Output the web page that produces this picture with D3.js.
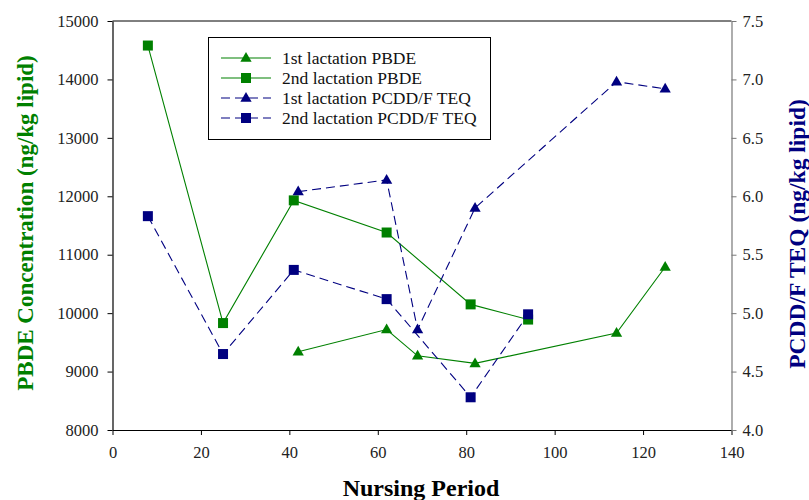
<!DOCTYPE html>
<html>
<head>
<meta charset="utf-8">
<script src="https://cdn.jsdelivr.net/npm/d3@7"></script>
<style>
  body { margin: 0; background: #fff; }
  svg { display: block; font-family: "Liberation Serif", "Times New Roman", serif; }
</style>
</head>
<body>
<script>
// nursing period (days) for each series
var pbde1X = [42, 62, 69, 82, 114, 125];
var pbde1Y = [9340, 9720, 9270, 9140, 9660, 10790];
var pbde2X = [8, 25, 41, 62, 81, 94];
var pbde2Y = [14580, 9830, 11930, 11380, 10150, 9890];
var teq1X = [42, 62, 69, 82, 114, 125];
var teq1Y = [6.04, 6.14, 4.86, 5.90, 6.98, 6.92];
var teq2X = [8, 25, 41, 62, 81, 94];
var teq2Y = [5.83, 4.65, 5.37, 5.12, 4.28, 4.99];

var xTicks = [0, 20, 40, 60, 80, 100, 120, 140];
var leftTicks = [8000, 9000, 10000, 11000, 12000, 13000, 14000, 15000];
var rightTicks = [4.0, 4.5, 5.0, 5.5, 6.0, 6.5, 7.0, 7.5];

var legendNames = ["1st lactation PBDE", "2nd lactation PBDE",
                   "1st lactation PCDD/F TEQ", "2nd lactation PCDD/F TEQ"];

var green = "#008000", navy = "#000080";
var serif = "'Liberation Serif', 'Times New Roman', serif";

var W = 809, H = 500;
var m = {left: 112.5, right: 731.5, top: 21, bottom: 430};

var svg = d3.select("body").append("svg").attr("width", W).attr("height", H);

var x = d3.scaleLinear().domain([0, 140]).range([m.left, m.right]);
var yL = d3.scaleLinear().domain([8000, 15000]).range([m.bottom, m.top]);
var yR = d3.scaleLinear().domain([4.0, 7.5]).range([m.bottom, m.top]);

// top border line
svg.append("line")
  .attr("x1", m.left).attr("x2", m.right)
  .attr("y1", m.top).attr("y2", m.top)
  .attr("stroke", "#000").attr("stroke-width", 1);

function styleAxis(g, col) {
  g.attr("font-family", serif).attr("font-size", 16.5);
  g.select(".domain").attr("stroke", col).attr("stroke-width", 1.2);
  g.selectAll(".tick line").attr("stroke", col);
  g.selectAll(".tick text").attr("fill", "#222");
}

var gx = svg.append("g").attr("transform", "translate(0," + m.bottom + ")")
  .call(d3.axisBottom(x).tickValues(xTicks).tickFormat(d3.format("d"))
    .tickSize(5).tickPadding(11).tickSizeOuter(0));
styleAxis(gx, "#000");

var gl = svg.append("g").attr("transform", "translate(" + m.left + ",0)")
  .call(d3.axisLeft(yL).tickValues(leftTicks).tickFormat(d3.format("d"))
    .tickSize(5).tickPadding(9).tickSizeOuter(0));
styleAxis(gl, "#000");

var gr = svg.append("g").attr("transform", "translate(" + m.right + ",0)")
  .call(d3.axisRight(yR).tickValues(rightTicks).tickFormat(d3.format(".1f"))
    .tickSize(5).tickPadding(6).tickSizeOuter(0));
styleAxis(gr, "#777");

// series
function zip(xs, ys) { return xs.map(function(v, i) { return [v, ys[i]]; }); }

var series = [
  {data: zip(pbde1X, pbde1Y), y: yL, col: green, dash: null, mark: "tri"},
  {data: zip(pbde2X, pbde2Y), y: yL, col: green, dash: null, mark: "sq"},
  {data: zip(teq1X, teq1Y), y: yR, col: navy, dash: "9,5", mark: "tri"},
  {data: zip(teq2X, teq2Y), y: yR, col: navy, dash: "9,5", mark: "sq"}
];

var triPath = d3.symbol().type(d3.symbolTriangle).size(55)();

function drawMark(g, kind, col, cx, cy) {
  if (kind == "sq") {
    g.append("rect").attr("x", cx - 5).attr("y", cy - 5)
      .attr("width", 10).attr("height", 10).attr("fill", col);
  } else {
    g.append("path").attr("d", triPath)
      .attr("transform", "translate(" + cx + "," + (cy + 0.5) + ")").attr("fill", col);
  }
}

series.forEach(function(s) {
  var line = d3.line().x(function(d) { return x(d[0]); }).y(function(d) { return s.y(d[1]); });
  svg.append("path").datum(s.data).attr("d", line)
    .attr("fill", "none").attr("stroke", s.col).attr("stroke-width", 1.1)
    .attr("stroke-dasharray", s.dash);
});
series.forEach(function(s) {
  var g = svg.append("g");
  s.data.forEach(function(d) { drawMark(g, s.mark, s.col, x(d[0]), s.y(d[1])); });
});

// legend
var lg = svg.append("g");
lg.append("rect").attr("x", 208.5).attr("y", 37.5).attr("width", 282).attr("height", 102)
  .attr("fill", "#fff").attr("stroke", "#000").attr("stroke-width", 1);
series.forEach(function(s, i) {
  var ly = 58 + i * 20;
  lg.append("line").attr("x1", 221).attr("x2", 271).attr("y1", ly).attr("y2", ly)
    .attr("stroke", s.col).attr("stroke-width", 1.1).attr("stroke-dasharray", s.dash);
  drawMark(lg, s.mark, s.col, 246, ly);
  lg.append("text").attr("x", 282).attr("y", ly + 5.5).text(legendNames[i])
    .attr("font-family", serif).attr("font-size", 17.5).attr("fill", "#111");
});

// axis titles
svg.append("text").attr("transform", "translate(33,223) rotate(-90)")
  .attr("text-anchor", "middle").attr("fill", green)
  .attr("font-family", serif).attr("font-size", 23).attr("font-weight", "bold")
  .text("PBDE Concentration (ng/kg lipid)");

svg.append("text").attr("transform", "translate(805,234) rotate(-90)")
  .attr("text-anchor", "middle").attr("fill", navy)
  .attr("font-family", serif).attr("font-size", 23.5).attr("font-weight", "bold")
  .text("PCDD/F TEQ (ng/kg lipid)");

svg.append("text").attr("x", 421).attr("y", 496)
  .attr("text-anchor", "middle").attr("fill", "#000")
  .attr("font-family", serif).attr("font-size", 24).attr("font-weight", "bold")
  .text("Nursing Period");
</script>
</body>
</html>
